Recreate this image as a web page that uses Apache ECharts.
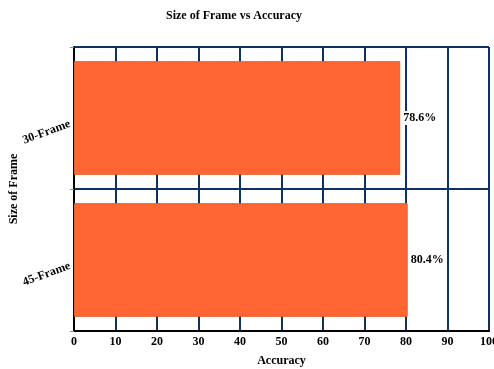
<!DOCTYPE html>
<html>
<head>
<meta charset="utf-8">
<script src="https://cdn.jsdelivr.net/npm/echarts@6/dist/echarts.min.js"></script>
<style>
  html, body { margin: 0; padding: 0; background: #fff; }
  #chart { width: 494px; height: 369px; }
</style>
</head>
<body>
<div id="chart"></div>
<script>
// Frame sizes (bottom to top) and their accuracy in percent
const categories = ['45-Frame', '30-Frame'];
const accuracy = [80.4, 78.6];
const xTicks = [0, 10, 20, 30, 40, 50, 60, 70, 80, 90, 100];

const FONT = '"Liberation Serif", "DejaVu Serif", serif';
const GRID_COLOR = '#0d3364';

const chart = echarts.init(document.getElementById('chart'));
chart.setOption({
  backgroundColor: '#ffffff',
  animation: false,
  title: {
    text: 'Size of Frame vs Accuracy',
    left: 229,
    top: 5,
    textAlign: 'center',
    textStyle: { fontFamily: FONT, fontWeight: 'bold', fontSize: 12, color: '#000' }
  },
  grid: { left: 74, right: 5, top: 47, bottom: 38, containLabel: false, outerBoundsMode: 'none' },
  xAxis: {
    type: 'value',
    min: xTicks[0],
    max: xTicks[xTicks.length - 1],
    interval: 10,
    name: 'Accuracy',
    nameLocation: 'middle',
    nameGap: 24,
    nameMoveOverlap: false,
    nameTextStyle: { fontFamily: FONT, fontWeight: 'bold', fontSize: 12, color: '#000' },
    axisLine: { show: true, lineStyle: { color: '#000', width: 2 } },
    axisTick: { show: false },
    axisLabel: { fontFamily: FONT, fontWeight: 'bold', fontSize: 12, color: '#000', margin: 5 },
    splitLine: { show: true, lineStyle: { color: GRID_COLOR, width: 2 } }
  },
  yAxis: {
    type: 'category',
    data: categories,
    name: 'Size of Frame',
    nameLocation: 'middle',
    nameGap: 54,
    nameRotate: 90,
    nameMoveOverlap: false,
    nameTextStyle: { fontFamily: FONT, fontWeight: 'bold', fontSize: 12, color: '#000' },
    axisLine: { show: true, lineStyle: { color: '#000', width: 2 } },
    axisTick: { show: true, length: 4, lineStyle: { color: '#888', width: 1 } },
    axisLabel: { fontFamily: FONT, fontWeight: 'bold', fontSize: 12, color: '#000', rotate: 20, margin: 6, verticalAlign: 'top' },
    splitLine: { show: true, lineStyle: { color: GRID_COLOR, width: 2 } }
  },
  series: [{
    type: 'bar',
    data: accuracy,
    barWidth: '80%',
    itemStyle: { color: '#ff6633', borderColor: '#e85a2a', borderWidth: 1 },
    label: {
      show: true,
      position: 'right',
      distance: 1,
      formatter: p => p.value.toFixed(1) + '%',
      fontFamily: FONT,
      fontWeight: 'bold',
      fontSize: 12,
      color: '#000',
      backgroundColor: '#fff',
      padding: [1, 2]
    }
  }]
});
</script>
</body>
</html>
